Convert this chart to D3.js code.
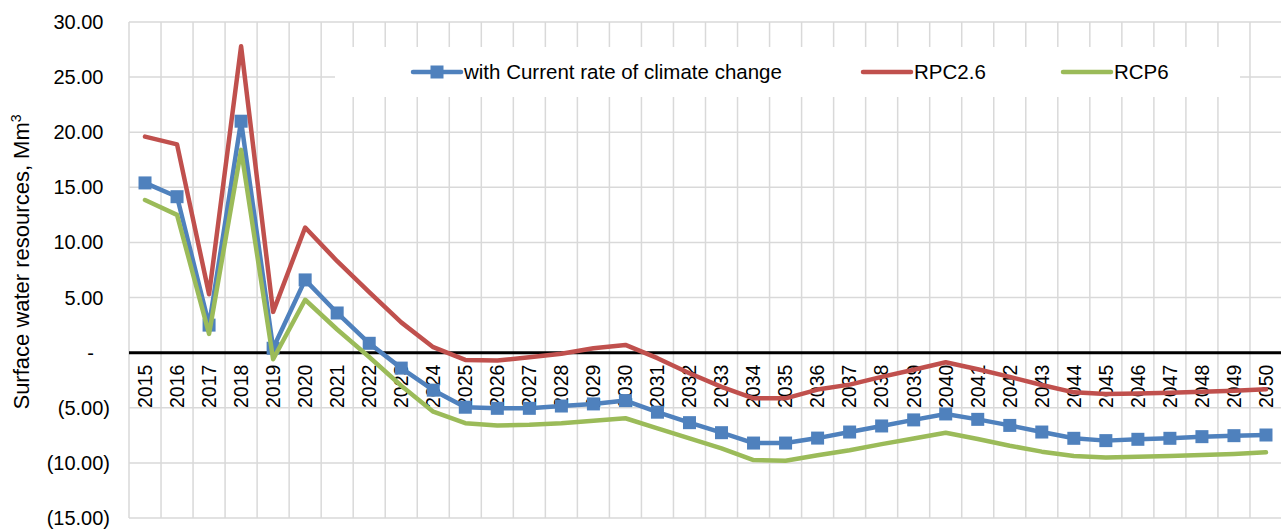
<!DOCTYPE html>
<html>
<head>
<meta charset="utf-8">
<script src="https://cdn.jsdelivr.net/npm/d3@7"></script>
<style>
  html, body { margin: 0; padding: 0; background: #fff; }
  svg { display: block; font-family: Arial, "Liberation Sans", sans-serif; }
</style>
</head>
<body>
<svg id="chart" width="1281" height="529"></svg>
<script>
const years = ["2015","2016","2017","2018","2019","2020","2021","2022","2023","2024","2025","2026","2027","2028","2029","2030","2031","2032","2033","2034","2035","2036","2037","2038","2039","2040","2041","2042","2043","2044","2045","2046","2047","2048","2049","2050"];

const currentRate = [15.4, 14.15, 2.5, 21.0, 0.4, 6.6, 3.6, 0.85, -1.4, -3.4, -4.95, -5.05, -5.05, -4.84, -4.65, -4.35, -5.4, -6.35, -7.26, -8.2, -8.2, -7.75, -7.2, -6.65, -6.1, -5.56, -6.05, -6.6, -7.2, -7.77, -7.98, -7.86, -7.77, -7.62, -7.53, -7.47];

const rpc26 = [19.6, 18.9, 5.3, 27.8, 3.7, 11.35, 8.3, 5.5, 2.75, 0.5, -0.66, -0.72, -0.42, -0.1, 0.4, 0.7, -0.5, -1.87, -3.1, -4.14, -4.14, -3.35, -2.9, -2.2, -1.55, -0.87, -1.5, -2.2, -2.93, -3.6, -3.75, -3.7, -3.63, -3.54, -3.45, -3.33];

const rcp6 = [13.85, 12.5, 1.7, 18.4, -0.6, 4.8, 2.1, -0.4, -3.0, -5.35, -6.4, -6.6, -6.55, -6.4, -6.17, -5.95, -6.86, -7.77, -8.68, -9.74, -9.8, -9.3, -8.85, -8.3, -7.78, -7.26, -7.83, -8.44, -8.98, -9.37, -9.5, -9.44, -9.37, -9.28, -9.19, -9.04];

const yTicks = [-15, -10, -5, 0, 5, 10, 15, 20, 25, 30];

const seriesNames = ["with Current rate of climate change", "RPC2.6", "RCP6"];
const seriesColors = ["#4f81bd", "#c0504d", "#9bbb59"];
const yTitle = "Surface water resources, Mm";

const svg = d3.select("#chart");
const pLeft = 129, pRight = 1282, pTop = 22, pBottom = 518;

const x = d3.scaleBand().domain(years).range([pLeft, pRight]).padding(0);
const y = d3.scaleLinear().domain([-15, 30]).range([pBottom, pTop]);
const cx = d => x(d) + x.bandwidth() / 2;

// grid
const grid = svg.append("g");
grid.selectAll("line.h").data(yTicks).join("line")
  .attr("x1", pLeft).attr("x2", pRight)
  .attr("y1", d => y(d)).attr("y2", d => y(d))
  .attr("stroke", "#d9d9d9").attr("stroke-width", 1.5);
const edges = years.map(d => x(d)).concat([pRight]);
grid.append("g").selectAll("line").data(edges).join("line")
  .attr("x1", d => d).attr("x2", d => d)
  .attr("y1", pTop).attr("y2", pBottom)
  .attr("stroke", "#d9d9d9").attr("stroke-width", 1.5);

// y tick labels
const fmt = v => v === 0 ? "-" : v < 0 ? "(" + Math.abs(v).toFixed(2) + ")" : v.toFixed(2);
svg.append("g").selectAll("text").data(yTicks).join("text")
  .attr("x", d => d === 0 ? 90.5 : d < 0 ? 110 : 103.5)
  .attr("y", d => y(d))
  .attr("dy", "0.35em")
  .attr("text-anchor", d => d === 0 ? "middle" : "end")
  .attr("font-size", 20)
  .attr("fill", "#000")
  .text(fmt);

// y title
const yt = svg.append("text")
  .attr("transform", `translate(21,${(pTop + pBottom) / 2 - 8}) rotate(-90)`)
  .attr("text-anchor", "middle")
  .attr("dy", "0.35em")
  .attr("font-size", 22)
  .attr("fill", "#000");
yt.append("tspan").text(yTitle);
yt.append("tspan").attr("dy", "-0.55em").attr("font-size", 14).text("3");

// legend box (covers gridlines)
const lg = svg.append("g");
lg.append("rect").attr("x", 335).attr("y", 47).attr("width", 905).attr("height", 50).attr("fill", "#fff");
const legendItems = [
  { x0: 413, tx: 464 },
  { x0: 863, tx: 914 },
  { x0: 1063, tx: 1114 }
];
legendItems.forEach((it, i) => {
  lg.append("line").attr("x1", it.x0).attr("x2", it.x0 + 48).attr("y1", 72).attr("y2", 72)
    .attr("stroke", seriesColors[i]).attr("stroke-width", 4.5).attr("stroke-linecap", "round");
  if (i === 0) {
    lg.append("rect").attr("x", it.x0 + 24 - 6.5).attr("y", 72 - 6.5).attr("width", 13).attr("height", 13)
      .attr("fill", seriesColors[0]);
  }
  lg.append("text").attr("x", it.tx).attr("y", 72).attr("dy", "0.35em")
    .attr("font-size", 20.5).attr("fill", "#000").text(seriesNames[i]);
});

// zero axis line
svg.append("line").attr("x1", pLeft).attr("x2", pRight)
  .attr("y1", y(0)).attr("y2", y(0))
  .attr("stroke", "#000").attr("stroke-width", 3);

// year labels
svg.append("g").selectAll("text").data(years).join("text")
  .attr("transform", d => `translate(${cx(d)},${y(0) + 12}) rotate(-90)`)
  .attr("text-anchor", "end")
  .attr("dy", "0.35em")
  .attr("font-size", 19.5)
  .attr("fill", "#000")
  .text(d => d);

// series
const allSeries = [currentRate, rpc26, rcp6];
const line = d3.line().x((d, i) => cx(years[i])).y(d => y(d));
allSeries.forEach((vals, s) => {
  svg.append("path").datum(vals)
    .attr("d", line)
    .attr("fill", "none")
    .attr("stroke", seriesColors[s])
    .attr("stroke-width", 4.5)
    .attr("stroke-linejoin", "round")
    .attr("stroke-linecap", "round");
  if (s === 0) {
    svg.append("g").selectAll("rect").data(vals).join("rect")
      .attr("x", (d, i) => cx(years[i]) - 6.5)
      .attr("y", d => y(d) - 6.5)
      .attr("width", 13).attr("height", 13)
      .attr("fill", seriesColors[0]);
  }
});
</script>
</body>
</html>
